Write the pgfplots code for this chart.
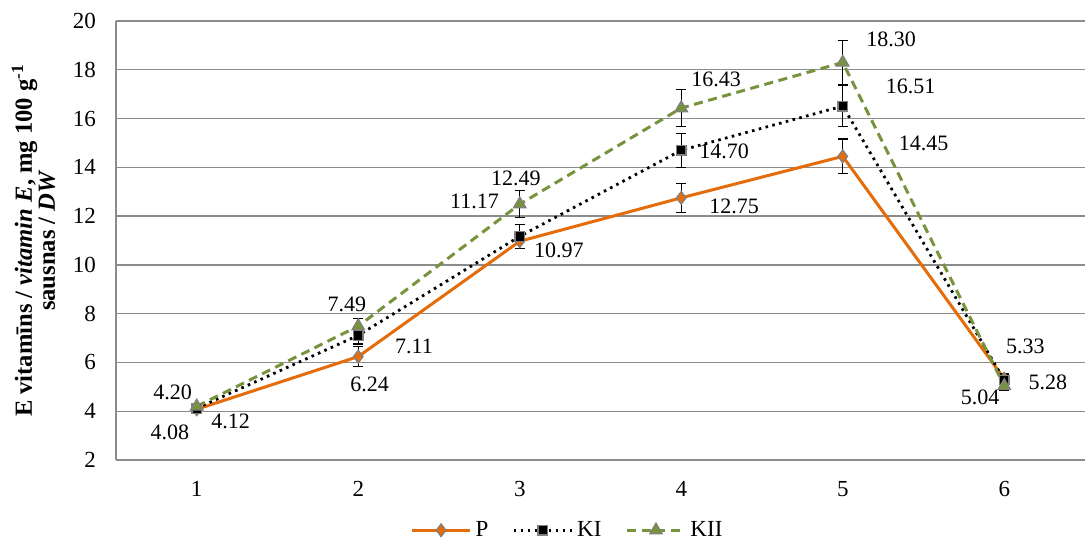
\documentclass[border=0pt]{standalone}
\usepackage{pgfplots}
\pgfplotsset{compat=1.18}
\usepackage{fontspec}
\setmainfont{Liberation Serif}
\definecolor{corange}{HTML}{E46C0A}
\definecolor{cgreen}{HTML}{77933C}
\definecolor{cgrid}{HTML}{8C8C8C}
\definecolor{cedge}{HTML}{7F7F7F}
\begin{document}
\begin{tikzpicture}
\path[use as bounding box] (-58pt,-44pt) rectangle (484.5pt,230pt);
\begin{axis}[
  scale only axis, width=484.5pt, height=219.5pt,
  at={(0,0)}, anchor=south west,
  xmin=0.5, xmax=6.5, ymin=2, ymax=20,
  xtick={1,2,3,4,5,6}, ytick={2,4,...,20},
  axis lines*=left,
  axis line style={cgrid, line width=0.7pt},
  major tick length=0pt,
  ymajorgrids, grid style={cgrid, line width=0.7pt},
  font=\fontsize{11.5pt}{13pt}\selectfont,
  /pgf/number format/assume math mode=true,
  xticklabel style={yshift=-7pt},
  yticklabel style={xshift=-6.5pt},
  ylabel={\textbf{E vitamīns / \textit{vitamin E}, mg 100 g\textsuperscript{-1}}\\\textbf{sausnas / \textit{DW}}},
  ylabel style={at={(axis description cs:-0.0851,0.5)}, anchor=center, align=center, font=\fontsize{12.3pt}{11.5pt}\selectfont},
  legend columns=-1,
  legend style={at={(0.467,-0.16)}, anchor=center, draw=none, fill=none,
    font=\fontsize{11.5pt}{13pt}\selectfont, /tikz/every even column/.append style={column sep=10pt}},
  legend image code/.code={
    \draw[#1] (0pt,0pt) -- (29pt,0pt);
    \draw[#1, mark repeat=2, mark phase=2] plot coordinates {(0pt,0pt) (14.5pt,0pt) (29pt,0pt)};
  },
  error bars/y dir=both, error bars/y explicit,
  error bars/error bar style={black, line width=0.6pt, solid},
  error bars/error mark options={black, rotate=90, mark size=2.6pt, line width=0.6pt, solid},
]
\addplot[corange, line width=1.5pt, mark=diamond*, mark size=3.2pt,
  mark options={fill=corange, draw=cedge, line width=0.6pt, solid}]
  coordinates {(1,4.08) +- (0,0.12) (2,6.24) +- (0,0.4) (3,10.97) +- (0,0.3) (4,12.75) +- (0,0.6) (5,14.45) +- (0,0.71) (6,5.33) +- (0,0.2)};
\addlegendentry{P}
\addplot[black, line width=1.4pt, dash pattern=on 1.3pt off 2.2pt, mark=square*, mark size=2.4pt,
  mark options={fill=black, draw=cedge, line width=0.6pt, solid}]
  coordinates {(1,4.12) +- (0,0.12) (2,7.11) +- (0,0.35) (3,11.17) +- (0,0.5) (4,14.70) +- (0,0.7) (5,16.51) +- (0,0.85) (6,5.28) +- (0,0.2)};
\addlegendentry{KI}
\addplot[cgreen, line width=1.5pt, dash pattern=on 4.5pt off 2.8pt, mark=triangle*, mark size=3.6pt,
  mark options={fill=cgreen, draw=cedge, line width=0.6pt, solid}]
  coordinates {(1,4.20) +- (0,0.12) (2,7.49) +- (0,0.3) (3,12.49) +- (0,0.55) (4,16.43) +- (0,0.75) (5,18.30) +- (0,0.9) (6,5.04) +- (0,0.2)};
\addlegendentry{KII}
\begin{scope}[every node/.style={font=\fontsize{11pt}{13pt}\selectfont, inner sep=0pt}]
\node at (axis cs:0.851,4.79) {4.20};
\node at (axis cs:0.833,3.15) {4.08};
\node at (axis cs:1.21,3.60) {4.12};
\node at (axis cs:1.93,8.40) {7.49};
\node at (axis cs:2.345,6.67) {7.11};
\node at (axis cs:2.07,5.12) {6.24};
\node at (axis cs:2.976,13.56) {12.49};
\node at (axis cs:2.72,12.62) {11.17};
\node at (axis cs:3.243,10.61) {10.97};
\node at (axis cs:4.216,17.62) {16.43};
\node at (axis cs:4.265,14.67) {14.70};
\node at (axis cs:4.327,12.41) {12.75};
\node at (axis cs:5.30,19.26) {18.30};
\node at (axis cs:5.42,17.33) {16.51};
\node at (axis cs:5.50,15.00) {14.45};
\node at (axis cs:6.13,6.67) {5.33};
\node at (axis cs:6.27,5.20) {5.28};
\node at (axis cs:5.85,4.58) {5.04};
\end{scope}
\end{axis}
\end{tikzpicture}
\end{document}
